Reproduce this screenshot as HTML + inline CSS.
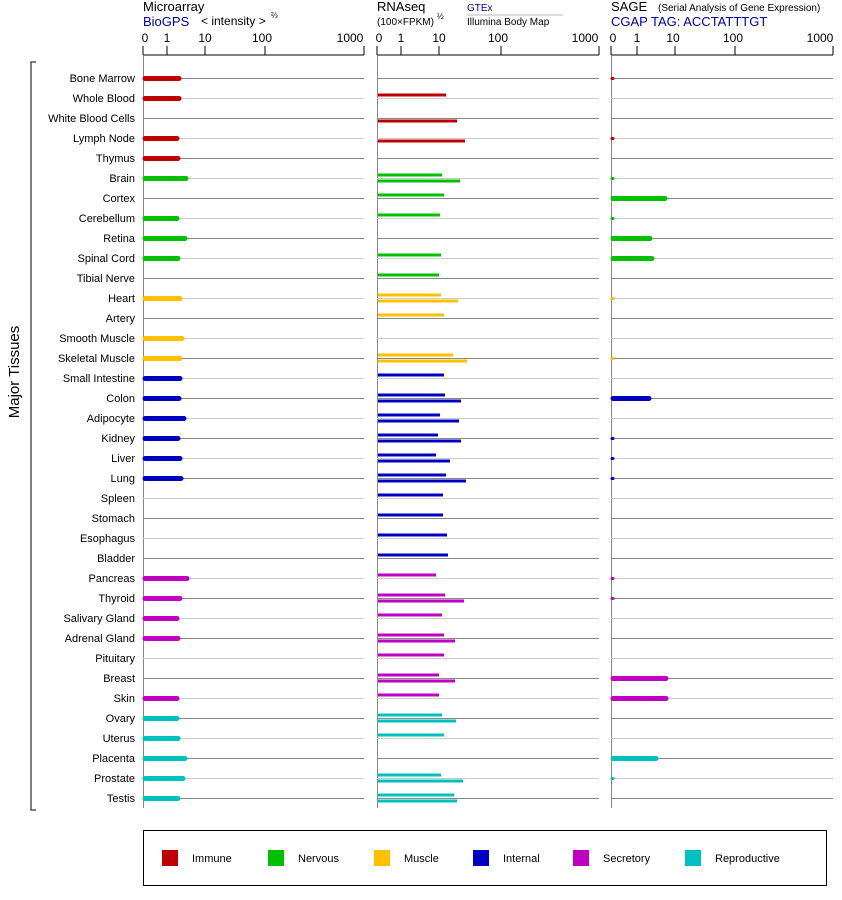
<!DOCTYPE html>
<html><head><meta charset="utf-8"><style>
body{margin:0;background:#fff}
svg{display:block;font-family:"Liberation Sans",Arial,sans-serif}
.l{font-size:11px;text-anchor:end}
.t{font-size:12px;text-anchor:middle}
</style></head><body>
<svg width="842" height="900" viewBox="0 0 842 900">
<text x="143" y="11" font-size="13">Microarray</text>
<text x="143" y="26" font-size="13" fill="#0000a0">BioGPS</text>
<text x="201" y="25" font-size="12">&lt; intensity &gt;</text><text x="271" y="18" font-size="8">⅔</text>
<text x="377" y="11" font-size="13">RNAseq</text>
<text x="377" y="25" font-size="10">(100×FPKM)</text><text x="437" y="19" font-size="8">½</text>
<text x="467" y="11" font-size="10" fill="#0000a0">GTEx</text>
<line x1="467" y1="15" x2="563" y2="15" stroke="#bbb"/>
<text x="467" y="25" font-size="10">Illumina Body Map</text>
<text x="611" y="11" font-size="13">SAGE</text>
<text x="658" y="11" font-size="10">(Serial Analysis of Gene Expression)</text>
<text x="611" y="26" font-size="13" fill="#0000a0">CGAP TAG: ACCTATTTGT</text>
<g stroke="#000" fill="none">
<path d="M143 55H364M143 46V55M167 46V55M205 46V55M265 46V55M364 46V55"/>
<path d="M377 55H599M377 46V55M401 46V55M439 46V55M501 46V55M599 46V55"/>
<path d="M611 55H833M611 46V55M637 46V55M675 46V55M735 46V55M833 46V55"/>
</g>
<g font-size="12" text-anchor="middle">
<text x="145" y="42">0</text><text x="167" y="42">1</text><text x="205" y="42">10</text><text x="262" y="42">100</text><text x="350" y="42">1000</text>
<text x="379" y="42">0</text><text x="401" y="42">1</text><text x="439" y="42">10</text><text x="498" y="42">100</text><text x="585" y="42">1000</text>
<text x="613" y="42">0</text><text x="637" y="42">1</text><text x="673" y="42">10</text><text x="733" y="42">100</text><text x="820" y="42">1000</text>
</g>
<g stroke="#888" stroke-width="1">
<path d="M143.5 55V808M377.5 55V808M611.5 55V808"/>
</g>
<g id="rows" stroke-width="1">
<path stroke="#888" d="M143 78.5H364M377 78.5H599M611 78.5H833M143 118.5H364M377 118.5H599M611 118.5H833M143 158.5H364M377 158.5H599M611 158.5H833M143 198.5H364M377 198.5H599M611 198.5H833M143 238.5H364M377 238.5H599M611 238.5H833M143 278.5H364M377 278.5H599M611 278.5H833M143 318.5H364M377 318.5H599M611 318.5H833M143 358.5H364M377 358.5H599M611 358.5H833M143 398.5H364M377 398.5H599M611 398.5H833M143 438.5H364M377 438.5H599M611 438.5H833M143 478.5H364M377 478.5H599M611 478.5H833M143 518.5H364M377 518.5H599M611 518.5H833M143 558.5H364M377 558.5H599M611 558.5H833M143 598.5H364M377 598.5H599M611 598.5H833M143 638.5H364M377 638.5H599M611 638.5H833M143 678.5H364M377 678.5H599M611 678.5H833M143 718.5H364M377 718.5H599M611 718.5H833M143 758.5H364M377 758.5H599M611 758.5H833M143 798.5H364M377 798.5H599M611 798.5H833"/>
<path stroke="#ccc" d="M143 98.5H364M377 98.5H599M611 98.5H833M143 138.5H364M377 138.5H599M611 138.5H833M143 178.5H364M377 178.5H599M611 178.5H833M143 218.5H364M377 218.5H599M611 218.5H833M143 258.5H364M377 258.5H599M611 258.5H833M143 298.5H364M377 298.5H599M611 298.5H833M143 338.5H364M377 338.5H599M611 338.5H833M143 378.5H364M377 378.5H599M611 378.5H833M143 418.5H364M377 418.5H599M611 418.5H833M143 458.5H364M377 458.5H599M611 458.5H833M143 498.5H364M377 498.5H599M611 498.5H833M143 538.5H364M377 538.5H599M611 538.5H833M143 578.5H364M377 578.5H599M611 578.5H833M143 618.5H364M377 618.5H599M611 618.5H833M143 658.5H364M377 658.5H599M611 658.5H833M143 698.5H364M377 698.5H599M611 698.5H833M143 738.5H364M377 738.5H599M611 738.5H833M143 778.5H364M377 778.5H599M611 778.5H833"/>
</g>
<g class="l">
<text x="135" y="82">Bone Marrow</text><text x="135" y="102">Whole Blood</text><text x="135" y="122">White Blood Cells</text><text x="135" y="142">Lymph Node</text><text x="135" y="162">Thymus</text><text x="135" y="182">Brain</text><text x="135" y="202">Cortex</text><text x="135" y="222">Cerebellum</text><text x="135" y="242">Retina</text><text x="135" y="262">Spinal Cord</text><text x="135" y="282">Tibial Nerve</text><text x="135" y="302">Heart</text><text x="135" y="322">Artery</text><text x="135" y="342">Smooth Muscle</text><text x="135" y="362">Skeletal Muscle</text><text x="135" y="382">Small Intestine</text><text x="135" y="402">Colon</text><text x="135" y="422">Adipocyte</text><text x="135" y="442">Kidney</text><text x="135" y="462">Liver</text><text x="135" y="482">Lung</text><text x="135" y="502">Spleen</text><text x="135" y="522">Stomach</text><text x="135" y="542">Esophagus</text><text x="135" y="562">Bladder</text><text x="135" y="582">Pancreas</text><text x="135" y="602">Thyroid</text><text x="135" y="622">Salivary Gland</text><text x="135" y="642">Adrenal Gland</text><text x="135" y="662">Pituitary</text><text x="135" y="682">Breast</text><text x="135" y="702">Skin</text><text x="135" y="722">Ovary</text><text x="135" y="742">Uterus</text><text x="135" y="762">Placenta</text><text x="135" y="782">Prostate</text><text x="135" y="802">Testis</text>
</g>
<path d="M36 62H31V810H36" stroke="#000" fill="none"/>
<text transform="translate(19,372) rotate(-90)" font-size="15" text-anchor="middle">Major Tissues</text>
<!-- microarray bars -->
<g stroke-width="5" stroke-linecap="round">
<path stroke="#c00000" d="M145 78.5H179M145 98.5H179M145 138.5H177M145 158.5H178"/>
<path stroke="#00c000" d="M145 178.5H186M145 218.5H177M145 238.5H185M145 258.5H178"/>
<path stroke="#ffc000" d="M145 298.5H180M145 338.5H182M145 358.5H180"/>
<path stroke="#0000c0" d="M145 378.5H180M145 398.5H179M145 418.5H184M145 438.5H178M145 458.5H180M145 478.5H181"/>
<path stroke="#c000c0" d="M145 578.5H187M145 598.5H180M145 618.5H177M145 638.5H178M145 698.5H177"/>
<path stroke="#00c0c0" d="M145 718.5H177M145 738.5H178M145 758.5H185M145 778.5H183M145 798.5H178"/>
</g>
<!-- rnaseq bars -->
<g stroke-width="3">
<path stroke="#c00000" d="M378 95H446M378 121H457M378 141H465"/>
<path stroke="#00c000" d="M378 175H442M378 181H460M378 195H444M378 215H440M378 255H441M378 275H439"/>
<path stroke="#ffc000" d="M378 295H441M378 301H458M378 315H444M378 355H453M378 361H467"/>
<path stroke="#0000c0" d="M378 375H444M378 395H445M378 401H461M378 415H440M378 421H459M378 435H438M378 441H461M378 455H436M378 461H450M378 475H446M378 481H466M378 495H443M378 515H443M378 535H447M378 555H448"/>
<path stroke="#c000c0" d="M378 575H436M378 595H445M378 601H464M378 615H442M378 635H444M378 641H455M378 655H444M378 675H439M378 681H455M378 695H439"/>
<path stroke="#00c0c0" d="M378 715H442M378 721H456M378 735H444M378 775H441M378 781H463M378 795H454M378 801H457"/>
</g>
<!-- sage bars -->
<g stroke-width="5" stroke-linecap="round">
<path stroke="#c00000" stroke-width="3" d="M612 78.5H613M612 138.5H613"/>
<path stroke="#00c000" d="M613 198.5H665M613 238.5H650M613 258.5H652"/>
<path stroke="#00c000" stroke-width="3" d="M612 178.5H613M612 218.5H613"/>
<path stroke="#ffc000" stroke-width="3" d="M612 298.5H613M612 358.5H613"/>
<path stroke="#0000c0" d="M613 398.5H649"/>
<path stroke="#0000c0" stroke-width="3" d="M612 438.5H613M612 458.5H613M612 478.5H613"/>
<path stroke="#c000c0" d="M613 678.5H666M613 698.5H666"/>
<path stroke="#c000c0" stroke-width="3" d="M612 578.5H613M612 598.5H613"/>
<path stroke="#00c0c0" d="M613 758.5H656"/>
<path stroke="#00c0c0" stroke-width="3" d="M612 778.5H613"/>
</g>
<!-- legend -->
<rect x="143.5" y="830.5" width="683" height="55" fill="none" stroke="#000"/>
<rect x="162" y="850" width="16" height="16" fill="#c00000"/><text x="192" y="862" font-size="11">Immune</text>
<rect x="268" y="850" width="16" height="16" fill="#00c000"/><text x="298" y="862" font-size="11">Nervous</text>
<rect x="374" y="850" width="16" height="16" fill="#ffc000"/><text x="404" y="862" font-size="11">Muscle</text>
<rect x="473" y="850" width="16" height="16" fill="#0000c0"/><text x="503" y="862" font-size="11">Internal</text>
<rect x="573" y="850" width="16" height="16" fill="#c000c0"/><text x="603" y="862" font-size="11">Secretory</text>
<rect x="685" y="850" width="16" height="16" fill="#00c0c0"/><text x="715" y="862" font-size="11">Reproductive</text>
</svg>
</body></html>
